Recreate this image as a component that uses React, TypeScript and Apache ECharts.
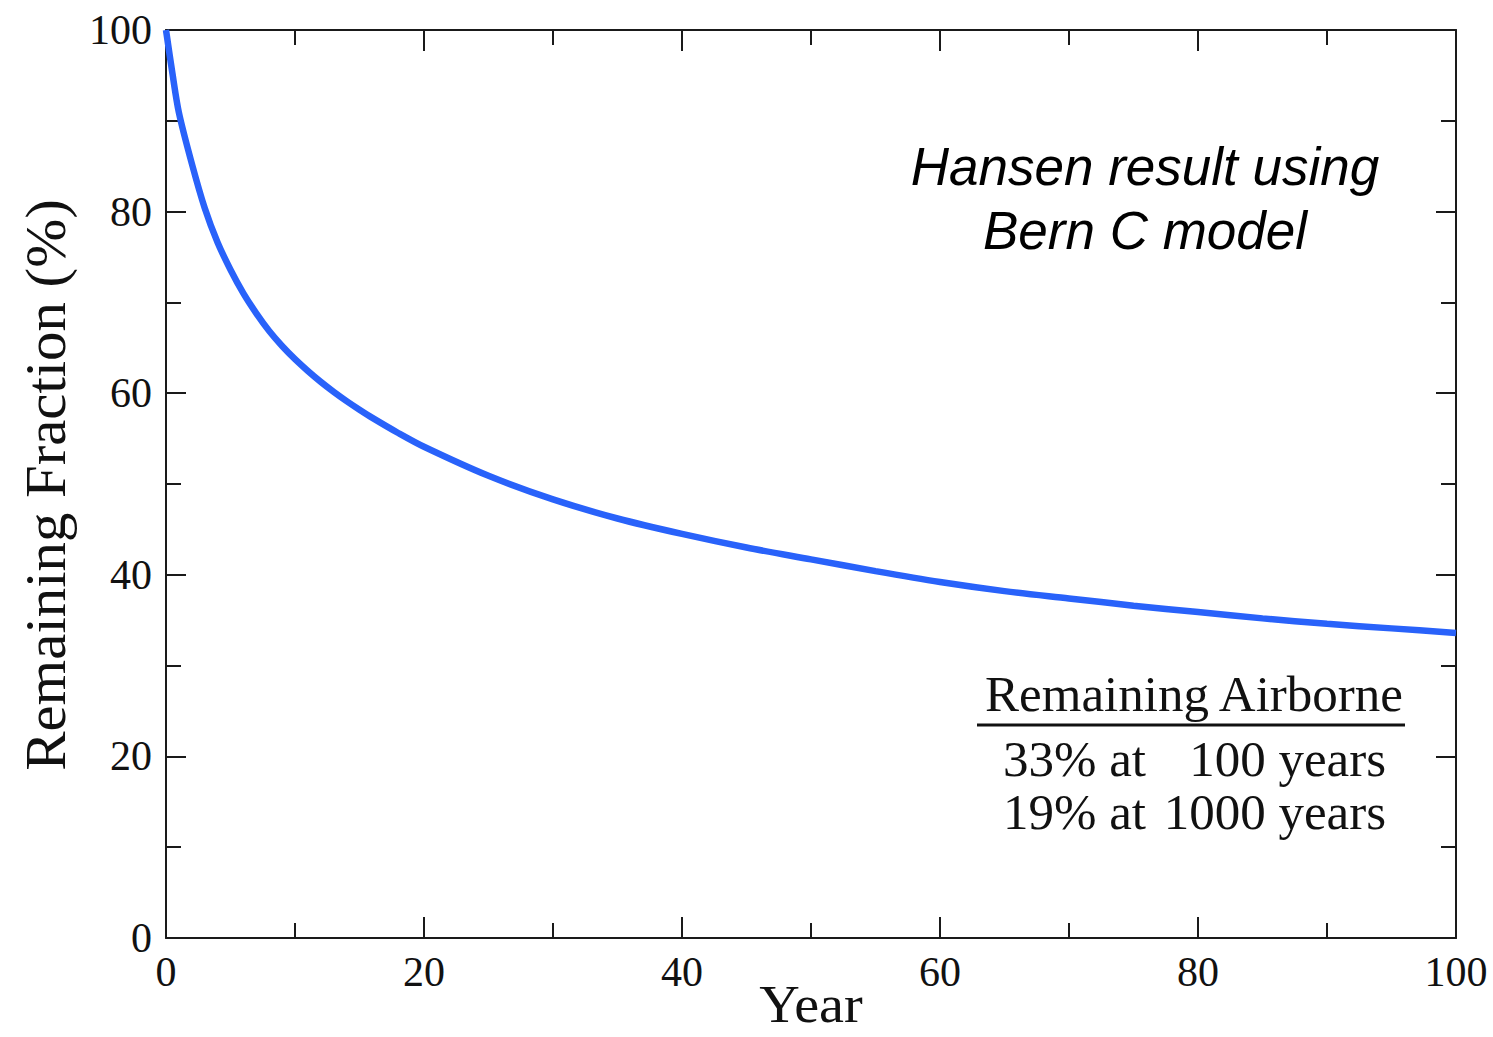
import React, { useEffect, useRef } from "react";
import * as echarts from "echarts";

const years = [0, 0.5, 1, 2, 3, 4, 5, 6, 7, 8, 9, 10, 11, 12, 13, 14, 15, 16, 18, 20, 25, 30, 35, 40, 45, 50, 55, 60, 65, 70, 75, 80, 85, 90, 95, 100];
const remaining = [100, 95.2, 90.9, 85.3, 80.4, 76.6, 73.6, 71.0, 68.8, 66.85, 65.2, 63.75, 62.45, 61.25, 60.15, 59.13, 58.18, 57.28, 55.62, 54.1, 50.9, 48.3, 46.2, 44.5, 43.0, 41.7, 40.4, 39.2, 38.2, 37.4, 36.6, 35.9, 35.2, 34.6, 34.1, 33.6];
const xTicks = [0, 20, 40, 60, 80, 100];
const yTicks = [0, 20, 40, 60, 80, 100];
const yAxisTitle = "Remaining Fraction (%)";
const xAxisTitle = "Year";
const noteLines = ["Hansen result using", "Bern C model"];
const tableHeader = "Remaining Airborne";
const tableRows = [
  ["33% at", "100 years"],
  ["19% at", "1000 years"],
];

const SERIF = "'Liberation Serif', 'Times New Roman', serif";
const SANS = "'Liberation Sans', Arial, sans-serif";

export default function App() {
  const ref = useRef<HTMLDivElement>(null);
  useEffect(() => {
    if (!ref.current) return;
    const chart = echarts.init(ref.current, null, { renderer: "svg" });
    const axisLine = { show: true, onZero: false, lineStyle: { color: "#1a1a1a", width: 2 } };
    const baseX = {
      type: "value" as const,
      min: 0,
      max: 100,
      interval: 20,
      axisLine,
      splitLine: { show: false },
      axisTick: { show: true, inside: true, length: 21, lineStyle: { color: "#1a1a1a", width: 2 } },
      minorTick: { show: true, splitNumber: 2, length: 15, lineStyle: { color: "#1a1a1a", width: 2 } },
      minorSplitLine: { show: false },
    };
    const baseY = {
      type: "value" as const,
      min: 0,
      max: 100,
      interval: 20,
      axisLine,
      splitLine: { show: false },
      axisTick: { show: true, inside: true, length: 20, lineStyle: { color: "#1a1a1a", width: 2 } },
      minorTick: { show: true, splitNumber: 2, length: 15, lineStyle: { color: "#1a1a1a", width: 2 } },
      minorSplitLine: { show: false },
    };
    chart.setOption({
      animation: false,
      backgroundColor: "#ffffff",
      grid: { left: 166, right: 37, top: 30, bottom: 99, containLabel: false },
      xAxis: [
        {
          ...baseX,
          position: "bottom",
          axisLabel: {
            show: true,
            fontFamily: SERIF,
            fontSize: 42,
            color: "#111",
            margin: 13,
            formatter: (v: number) => (xTicks.includes(v) ? String(v) : ""),
          },
        },
        {
          ...baseX,
          position: "top",
          axisLabel: { show: false },
        },
      ],
      yAxis: [
        {
          ...baseY,
          position: "left",
          axisLabel: {
            show: true,
            fontFamily: SERIF,
            fontSize: 42,
            color: "#111",
            margin: 14,
            formatter: (v: number) => (yTicks.includes(v) ? String(v) : ""),
          },
        },
        {
          ...baseY,
          position: "right",
          axisLabel: { show: false },
        },
      ],
      series: [
        {
          type: "line",
          xAxisIndex: 0,
          yAxisIndex: 0,
          data: years.map((y, i) => [y, remaining[i]]),
          smooth: 0.3,
          showSymbol: false,
          lineStyle: { color: "#2962fa", width: 6.5 },
        },
      ],
      graphic: [
        {
          type: "text",
          x: 46,
          y: 485,
          rotation: Math.PI / 2,
          scaleX: 1.05,
          style: {
            text: yAxisTitle,
            fontFamily: SERIF,
            fontSize: 56,
            fill: "#111",
            align: "center",
            verticalAlign: "middle",
          },
        },
        {
          type: "text",
          x: 811,
          y: 1005,
          scaleX: 1.08,
          style: {
            text: xAxisTitle,
            fontFamily: SERIF,
            fontSize: 52,
            fill: "#111",
            align: "center",
            verticalAlign: "middle",
          },
        },
        ...noteLines.map((t, i) => ({
          type: "text",
          x: 1145,
          y: 166 + i * 64,
          style: {
            text: t,
            fontFamily: SANS,
            fontStyle: "italic",
            fontSize: 53,
            fill: "#000",
            align: "center",
            verticalAlign: "middle",
          },
        })),
        {
          type: "text",
          x: 1194,
          y: 694,
          style: {
            text: tableHeader,
            fontFamily: SERIF,
            fontSize: 51,
            fill: "#111",
            align: "center",
            verticalAlign: "middle",
          },
        },
        {
          type: "line",
          shape: { x1: 977, y1: 725, x2: 1405, y2: 725 },
          style: { stroke: "#111", lineWidth: 3 },
        },
        ...tableRows.flatMap((row, i) => [
          {
            type: "text",
            x: 1146,
            y: 759 + i * 53,
            style: {
              text: row[0],
              fontFamily: SERIF,
              fontSize: 51,
              fill: "#111",
              align: "right",
              verticalAlign: "middle",
            },
          },
          {
            type: "text",
            x: 1386,
            y: 759 + i * 53,
            style: {
              text: row[1],
              fontFamily: SERIF,
              fontSize: 51,
              fill: "#111",
              align: "right",
              verticalAlign: "middle",
            },
          },
        ]),
      ],
    });
    return () => chart.dispose();
  }, []);
  return (
    <div
      ref={ref}
      style={{ position: "fixed", left: 0, top: 0, width: 1493, height: 1037, background: "#fff" }}
    />
  );
}
